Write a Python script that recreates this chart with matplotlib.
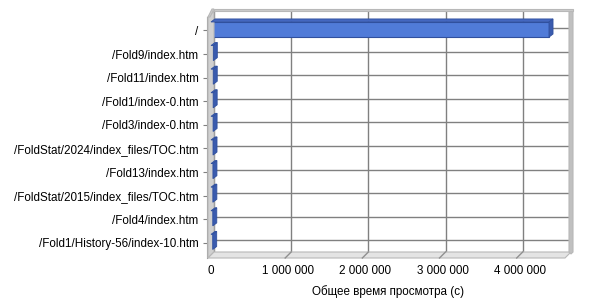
import numpy as np
import matplotlib
matplotlib.use('Agg')
from matplotlib import pyplot as plt
from matplotlib.patches import Polygon
from matplotlib.transforms import IdentityTransform, offset_copy

# data
pages = ["/", "/Fold9/index.htm", "/Fold11/index.htm", "/Fold1/index-0.htm",
         "/Fold3/index-0.htm", "/FoldStat/2024/index_files/TOC.htm",
         "/Fold13/index.htm", "/FoldStat/2015/index_files/TOC.htm",
         "/Fold4/index.htm", "/Fold1/History-56/index-10.htm"]
view_time = [4380000, 30000, 29000, 28000, 27000, 26000, 25000, 24000, 23000, 22000]
x_ticks = [0, 1000000, 2000000, 3000000, 4000000]
x_tick_labels = ["0", "1 000 000", "2 000 000", "3 000 000", "4 000 000"]
x_max = 4600000

plt.rcParams['font.family'] = ['Liberation Sans', 'DejaVu Sans']
plt.rcParams['font.size'] = 8.4

W, H = 600, 300
fig = plt.figure(figsize=(W / 100, H / 100), dpi=100)


def box(x0, y0, x1, y1):
    # image px (top-left origin) -> figure fraction rect
    return [x0 / W, 1 - y1 / H, (x1 - x0) / W, (y1 - y0) / H]


DEPTH = 6
BACK = (214, 11, 569, 252)

# back wall
ax = fig.add_axes(box(*BACK))
ax.set_xlim(0, x_max)
ax.set_ylim(9.49, -0.72)
ax.set_xticks(x_ticks)
ax.set_xticklabels([])
ax.set_yticks([])
ax.tick_params(length=0)
ax.grid(axis='x', color='#808080', lw=1)
for s in ax.spines.values():
    s.set_visible(False)
ax.hlines(np.arange(len(pages)), 0, x_max, color='#808080', lw=1, zorder=1)

# front axes for ticks and labels
axf = fig.add_axes(box(BACK[0] - 3, BACK[1] + DEPTH, BACK[2] - 3, BACK[3] + DEPTH))
axf.patch.set_visible(False)
axf.set_xlim(0, x_max)
axf.set_ylim(9.64, -0.572)
axf.set_xticks(x_ticks)
axf.set_xticklabels(x_tick_labels)
axf.set_yticks(np.arange(len(pages)))
axf.set_yticklabels(pages)
axf.tick_params(axis='x', length=0, pad=5)
axf.tick_params(axis='y', length=3, color='#808080', pad=3)
for k in ['top', 'right', 'bottom']:
    axf.spines[k].set_visible(False)
axf.spines['left'].set_position(('outward', 3))
axf.spines['left'].set_color('#A0A0A0')
axf.set_xlabel("Общее время просмотра (с)", labelpad=6)

ident = IdentityTransform()


def px(x, y):
    return (x, H - y)


# walls and floor
bx0, by0, bx1, by1 = BACK
walls = [
    ([px(bx0 - DEPTH, by0 + DEPTH), px(bx0, by0), px(bx0, by1), px(bx0 - DEPTH, by1 + DEPTH)], '#D0D0D0'),
    ([px(bx0 - DEPTH, by1 + DEPTH), px(bx1 - 4, by1 + DEPTH), px(bx1 + 2, by1), px(bx0, by1)], '#E4E4E4'),
    ([px(bx1, by0), px(bx1 + 4, by0), px(bx1 + 4, by1), px(bx1 + 2, by1 + 2), px(bx1, by1)], '#C0C0C0'),
    ([px(bx0, by0 - 2), px(bx1 + 4, by0 - 2), px(bx1 + 4, by0), px(bx0, by0)], '#CCCCCC'),
    ([px(bx0 - DEPTH, by0 + DEPTH), px(bx0 - 2, by0 - 2), px(bx0, by0 - 2), px(bx0 - DEPTH + 2, by0 + DEPTH)], '#CCCCCC'),
]
for verts, c in walls:
    fig.add_artist(Polygon(verts, closed=True, transform=ident, facecolor=c,
                           edgecolor='#B8B8B8', lw=0.8, zorder=0.5))

# grid lines across the floor
for t in x_ticks[1:]:
    xb, _ = ax.transData.transform((t, 0))
    fig.add_artist(plt.Line2D([xb, xb - DEPTH], [H - by1, H - by1 - DEPTH],
                              transform=ident, color='#909090', lw=1, zorder=0.6))

# bars with a bit of depth
front = offset_copy(ax.transData, fig=fig, x=-3, y=-1.5, units='dots')
bh = 0.64
ax.barh(np.arange(len(pages)), view_time, height=bh, color='#507BD8',
        edgecolor='#30509E', lw=0.8, transform=front, zorder=3, clip_on=False)
ddx, ddy = 4, 3
for i, v in enumerate(view_time):
    (x0, yt), (x1, yb) = front.transform([(0, i - bh / 2), (v, i + bh / 2)])
    top = [(x0, yt), (x1, yt), (x1 + ddx, yt + ddy), (x0 + ddx, yt + ddy)]
    side = [(x1, yt), (x1 + ddx, yt + ddy), (x1 + ddx, yb + ddy), (x1, yb)]
    fig.add_artist(Polygon(top, closed=True, transform=ident, facecolor='#4467C0',
                           edgecolor='#30509E', lw=0.6, zorder=2))
    fig.add_artist(Polygon(side, closed=True, transform=ident, facecolor='#3A5BAE',
                           edgecolor='#30509E', lw=0.6, zorder=2))

fig.savefig('out.png', dpi=100)
